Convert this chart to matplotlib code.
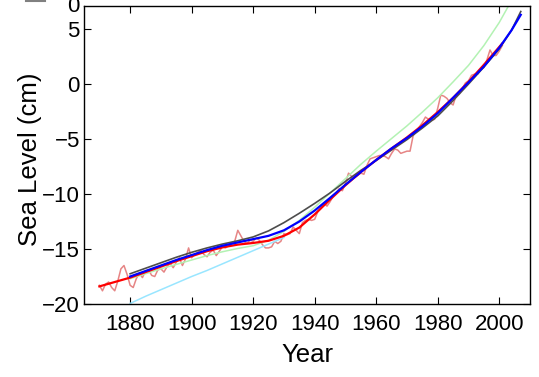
import matplotlib
matplotlib.use("Agg")
import matplotlib.pyplot as plt
from matplotlib.lines import Line2D

plt.rcParams['font.family'] = ['Liberation Sans', 'DejaVu Sans']

# Annual tide-gauge record (pink)
annual_years = list(range(1870, 2002))
annual_values = [
    -18.3, -18.8, -18.2, -18.0, -18.5, -18.8, -17.9, -16.8, -16.5, -17.3,
    -18.3, -18.5, -17.7, -17.2, -17.6, -17.0, -16.9, -17.4, -17.5, -16.9,
    -16.8, -17.1, -16.6, -16.3, -16.7, -16.2, -15.8, -16.5, -15.9, -14.9,
    -15.8, -15.5, -15.3, -15.1, -15.5, -15.7, -15.3, -15.1, -15.6, -15.2,
    -14.8, -14.9, -14.7, -14.5, -14.3, -13.3, -13.8, -14.3, -14.5, -14.2,
    -14.3, -14.0, -14.2, -14.6, -14.9, -14.9, -14.8, -14.3, -14.5, -14.3,
    -13.6, -13.7, -13.6, -13.0, -13.3, -13.6, -12.6, -12.4, -12.3, -12.4,
    -12.3, -11.6, -11.3, -10.8, -11.1, -10.7, -10.2, -9.9, -9.5, -9.7,
    -9.0, -8.1, -8.4, -8.5, -8.3, -8.1, -8.2, -7.4, -6.8, -6.7,
    -6.6, -6.5, -6.5, -6.6, -6.8, -6.3, -5.9, -6.0, -6.3, -6.2,
    -6.1, -6.1, -4.7, -4.3, -3.9, -3.5, -3.0, -3.2, -3.3, -3.2,
    -2.2, -1.0, -1.1, -1.3, -1.7, -1.9, -1.0, -0.9, -0.4, 0.1,
    0.3, 0.8, 0.9, 0.9, 1.3, 1.5, 2.2, 3.1, 2.6, 2.6,
    3.0, 3.5,
]

# Smoothed record (red)
red_years = [1870, 1875, 1880, 1885, 1890, 1895, 1900, 1905, 1910, 1915, 1920,
             1925, 1930, 1935, 1940, 1945, 1950, 1955, 1960, 1965, 1970, 1975,
             1980, 1985, 1990, 1995, 2001]
red_values = [-18.4, -18.0, -17.6, -17.1, -16.6, -16.1, -15.65, -15.2, -14.85,
              -14.6, -14.45, -14.25, -13.8, -13.05, -11.85, -10.5, -9.2, -8.0,
              -6.9, -5.85, -4.85, -3.75, -2.55, -1.25, 0.2, 1.75, 3.7]

# Model fit (blue)
blue_years = [1880, 1885, 1890, 1895, 1900, 1905, 1910, 1915, 1920, 1925, 1930,
              1935, 1940, 1945, 1950, 1955, 1960, 1965, 1970, 1975, 1980, 1985,
              1990, 1995, 2000, 2004, 2007]
blue_values = [-17.5, -17.0, -16.5, -16.0, -15.55, -15.1, -14.7, -14.4, -14.1,
               -13.8, -13.3, -12.5, -11.5, -10.35, -9.15, -8.0, -6.9, -5.85,
               -4.9, -3.85, -2.65, -1.25, 0.15, 1.6, 3.3, 4.9, 6.3]

# Model fit (dark grey)
grey_years = [1880, 1885, 1890, 1895, 1900, 1905, 1910, 1915, 1920, 1925, 1930,
              1935, 1940, 1945, 1950, 1955, 1960, 1965, 1970, 1975, 1980, 1985,
              1990, 1995, 2000, 2004, 2007]
grey_values = [-17.25, -16.75, -16.25, -15.75, -15.3, -14.9, -14.55, -14.25,
               -13.9, -13.35, -12.6, -11.75, -10.85, -9.9, -8.85, -7.85, -6.95,
               -6.0, -5.05, -4.0, -2.9, -1.5, 0.0, 1.55, 3.2, 4.9, 6.6]

# Model fit (light green)
green_years = [1880, 1885, 1890, 1895, 1900, 1905, 1910, 1915, 1920, 1925, 1930,
               1935, 1940, 1945, 1950, 1955, 1960, 1965, 1970, 1975, 1980, 1985,
               1990, 1995, 2000, 2004]
green_values = [-17.7, -17.25, -16.8, -16.4, -16.0, -15.6, -15.25, -14.95, -14.7,
                -14.2, -13.4, -12.4, -11.2, -9.9, -8.6, -7.3, -6.1, -4.95, -3.8,
                -2.55, -1.25, 0.2, 1.7, 3.5, 5.6, 7.6]

# Model fit (light cyan)
cyan_years = [1880, 1885, 1890, 1895, 1900, 1905, 1910, 1915, 1920, 1925, 1930]
cyan_values = [-19.95, -19.3, -18.7, -18.1, -17.5, -16.95, -16.35, -15.75,
               -15.15, -14.55, -13.95]

x_ticks = [1880, 1900, 1920, 1940, 1960, 1980, 2000]
y_ticks = [-20, -15, -10, -5, 0, 5]

fig = plt.figure(figsize=(5.39, 3.77), dpi=100)
ax = fig.add_axes([84 / 539, 73 / 377, 446 / 539, 298 / 377])

ax.plot(annual_years, annual_values, color=(0.9, 0.52, 0.52), lw=1.1)
ax.plot(cyan_years, cyan_values, color=(0.6, 0.9, 1.0), lw=1.1)
ax.plot(green_years, green_values, color=(0.7, 0.95, 0.7), lw=1.1)
ax.plot(grey_years, grey_values, color=(0.3, 0.3, 0.3), lw=1.2)
ax.plot(red_years, red_values, color=(1.0, 0.0, 0.0), lw=1.6)
ax.plot(blue_years, blue_values, color=(0.0, 0.0, 1.0), lw=1.6)

ax.set_xlim(1865, 2010)
ax.set_ylim(-20, 7.1)
ax.set_xticks(x_ticks)
ax.set_yticks(y_ticks)
ax.tick_params(direction='in', length=5, width=0.8, top=True, right=True,
               labelsize=16, colors='black')
ax.tick_params(axis='x', pad=7)
ax.tick_params(axis='y', pad=3)
for s in ax.spines.values():
    s.set_linewidth(1.0)

ax.set_xlabel('Year', fontsize=18.5, va='center')
ax.set_ylabel('Sea Level (cm)', fontsize=18.5, va='center')
ax.xaxis.set_label_coords(0.5, -0.171)
ax.yaxis.set_label_coords(-0.121, 0.485)

# clipped remnants at the top-left edge of the original figure
fig.text(80 / 539, 1 - 7 / 377, '0', fontsize=16, ha='right', va='center')
fig.add_artist(Line2D([26 / 539, 45 / 539], [1 - 0.5 / 377, 1 - 0.5 / 377],
                      color=(0.5, 0.5, 0.5), lw=1.5))

fig.savefig('out.png', dpi=100)
